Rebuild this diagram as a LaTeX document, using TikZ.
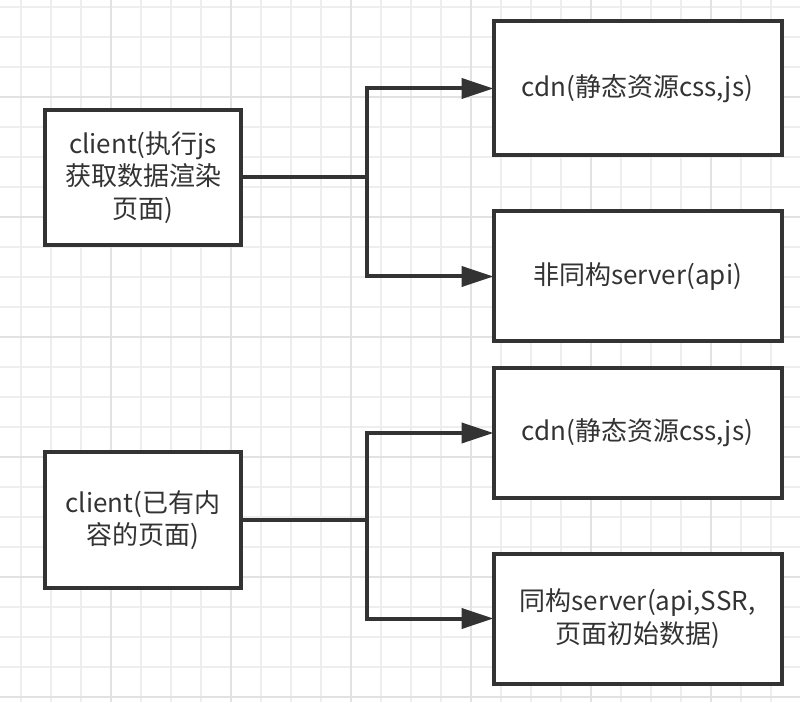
\documentclass[tikz,border=0pt]{standalone}
\usepackage{fontspec}
\setmainfont{Noto Sans CJK SC}
\usetikzlibrary{arrows.meta}
\definecolor{ink}{HTML}{333333}
\definecolor{gridminor}{HTML}{EEEEEE}
\definecolor{gridmajor}{HTML}{E2E2E2}
\tikzset{
  box/.style={draw=ink, line width=3pt, fill=white, inner sep=0pt, outer sep=0pt,
    align=center, text=ink, font=\fontsize{19.5}{24.5}\selectfont},
  smallbox/.style={box, minimum width=147pt},
  bigbox/.style={box, minimum width=216pt},
  conn/.style={draw=ink, line width=3pt},
  arr/.style={conn, -{Triangle[length=24pt, width=15pt]}},
  gminor/.style={draw=gridminor, line width=1.2pt},
  gmajor/.style={draw=gridmajor, line width=1.2pt}
}
\begin{document}
\begin{tikzpicture}[x=0.75pt, y=-0.75pt]
\fill[white] (0,0) rectangle (800,702);
\useasboundingbox (0,0) rectangle (800,702);
\foreach \x in {21,51,...,800} \draw[gminor] (\x,0) -- (\x,702);
\foreach \y in {7,37,...,702} \draw[gminor] (0,\y) -- (800,\y);
\foreach \x in {111,231,...,800} \draw[gmajor] (\x,0) -- (\x,702);
\foreach \y in {97,217,...,702} \draw[gmajor] (0,\y) -- (800,\y);

\node[smallbox, minimum height=101.25pt] (c1) at (143,177.5) {client(执行js\\获取数据渲染\\页面)};
\node[bigbox, minimum height=100.5pt] (cdn1) at (637.5,88.5) {cdn(静态资源css,js)};
\node[bigbox, minimum height=97.5pt] (api1) at (637.5,276.5) {非同构server(api)};

\node[smallbox, minimum height=102pt] (c2) at (143,520) {client(已有内\\容的页面)};
\node[bigbox, minimum height=96.75pt] (cdn2) at (637.5,433) {cdn(静态资源css,js)};
\node[bigbox, minimum height=97.5pt] (ssr) at (637.5,618.5) {同构server(api,SSR,\\页面初始数据)};

\coordinate (j1) at (367,177.5);
\coordinate (j2) at (367,520);

\draw[conn] (c1.east) -- (j1);
\draw[arr] (j1) |- (cdn1.west);
\draw[arr] (j1) |- (api1.west);

\draw[conn] (c2.east) -- (j2);
\draw[arr] (j2) |- (cdn2.west);
\draw[arr] (j2) |- (ssr.west);
\end{tikzpicture}
\end{document}
